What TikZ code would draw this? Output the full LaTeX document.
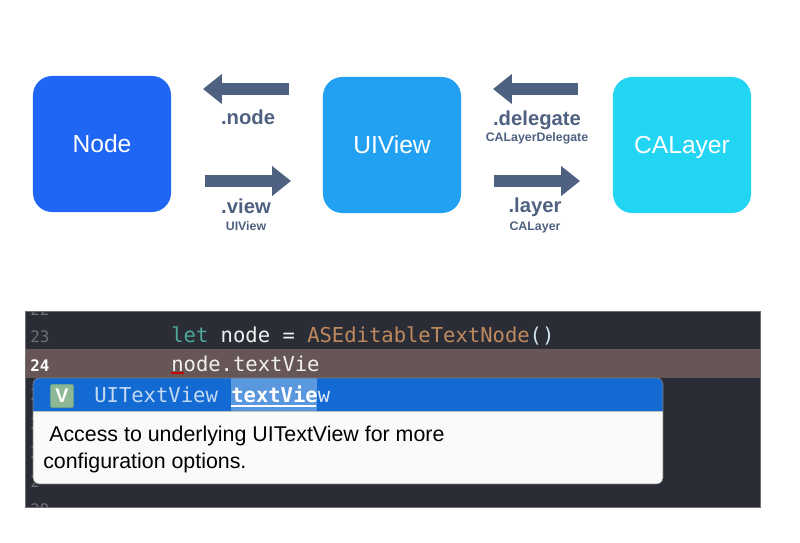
\documentclass[tikz,border=0pt]{standalone}
\usepackage{fontspec}
\setmainfont{Liberation Sans}
\setmonofont{DejaVu Sans Mono}
\usetikzlibrary{arrows.meta}
\definecolor{panelbg}{HTML}{2A2D36}
\definecolor{linebg}{HTML}{665657}
\definecolor{popblue}{HTML}{126AD2}
\definecolor{arrowcol}{HTML}{4F6180}
\definecolor{numcol}{HTML}{6E7076}
\begin{document}
\begin{tikzpicture}[x=0.025cm,y=-0.025cm,
	block/.style = {rounded corners=0.48cm,
		minimum width = 3.45cm,
		minimum height = 3.4cm,
		text height = 12.5pt,
		text depth = 0pt,
		text = white,
		font = \fontsize{17.5}{20}\selectfont},
	bigarrow/.style = {arrowcol,
		line width = 8.6pt,
		-{Triangle[length=13.5pt,width=20.6pt]}},
	prop/.style = {arrowcol,
		inner sep = 0pt,
		anchor = base,
		font = \fontsize{14.4}{16}\selectfont\bfseries},
	subprop/.style = {arrowcol,
		inner sep = 0pt,
		anchor = base,
		font = \fontsize{8.8}{10}\selectfont\bfseries},
	code/.style = {inner sep = 0pt,
		anchor = base west,
		font = \fontsize{14.6}{17}\selectfont\ttfamily},
	gutter/.style = {numcol,
		inner sep = 0pt,
		anchor = base west,
		font = \fontsize{11.3}{13}\selectfont\ttfamily},
	doc/.style = {black,
		inner sep = 0pt,
		anchor = base west,
		font = \fontsize{15.2}{18}\selectfont}]

	\useasboundingbox (0,0) rectangle (800,542);

	% top row
	\node[block,fill={rgb,255:red,31;green,102;blue,245}] (node) at (102,144) {Node};
	\node[block,fill={rgb,255:red,34;green,161;blue,243}] (uiview) at (392,145) {UIView};
	\node[block,fill={rgb,255:red,34;green,213;blue,243}] (calayer) at (682,145) {CALayer};

	\coordinate (nodeA) at (289,89);
	\coordinate (nodeB) at (203,89);
	\coordinate (viewA) at (205,181);
	\coordinate (viewB) at (291,181);
	\coordinate (delegateA) at (578,89);
	\coordinate (delegateB) at (493,89);
	\coordinate (layerA) at (494,181);
	\coordinate (layerB) at (580,181);
	\draw[bigarrow] (nodeA) -- (nodeB);
	\draw[bigarrow] (viewA) -- (viewB);
	\draw[bigarrow] (delegateA) -- (delegateB);
	\draw[bigarrow] (layerA) -- (layerB);

	\node[prop] (nodeprop) at (248,124) {.node};
	\node[prop] (viewprop) at (246,213) {.view};
	\node[subprop] (viewsub) at (246,230) {UIView};
	\node[prop] (delegateprop) at (537,125) {.delegate};
	\node[subprop] (delegatesub) at (537,141) {CALayerDelegate};
	\node[prop] (layerprop) at (535,212) {.layer};
	\node[subprop] (layersub) at (535,230) {CALayer};

	% editor panel
	\begin{scope}
		\clip (25,311) rectangle (760,507);
		\fill[panelbg] (25,311) rectangle (760,507);
		\fill[linebg] (25,349) rectangle (760,378);
		\node[gutter] (n22) at (30,315) {22};
		\foreach \y in {400,429,458,487} {
			\node[gutter] at (30,\y) {2};
		}
		\node[gutter] (n29) at (30,515) {29};
	\end{scope}
	\draw[numcol,line width=0.5pt] (25,311) rectangle (760,507);

	\node[gutter] (n23) at (30,342) {23};
	\node[gutter,white,font=\fontsize{11.3}{13}\selectfont\ttfamily\bfseries] (n24) at (30,371) {24};
	\node[code] (line23) at (171,342) {\textcolor[HTML]{4FA89A}{let} \textcolor[HTML]{F0F0F0}{node =} \textcolor[HTML]{C08A5E}{ASEditableTextNode}\textcolor[HTML]{CFE5EE}{()}};
	\node[code,text={rgb,255:red,240;green,240;blue,240}] (line24) at (171,371) {node.textVie};
	\draw[red!80!black,line width=1pt] (line24.base west)++(0,2) -- ++(13,0);

	% completion popup
	\begin{scope}
		\clip[rounded corners=0.16cm] (33,378) rectangle (663,484);
		\fill[white!98!black] (33,378) rectangle (663,484);
		\fill[popblue] (33,378) rectangle (663,411);
		\draw[gray!50,line width=0.7pt] (33,411.5) -- (663,411.5);
		\fill[white!30!popblue] (231,378) rectangle (317,411);
	\end{scope}
	\draw[gray,line width=0.4pt,rounded corners=0.16cm] (33,378) rectangle (663,484);

	\node[fill={rgb,255:red,140;green,184;blue,150},draw={rgb,255:red,110;green,165;blue,125},rounded corners=0.05cm,
		minimum size=0.58cm,inner sep=0pt,text=white,font=\fontsize{14}{16}\selectfont\bfseries] (icon) at (62,396) {V};
	\node[code,text={rgb,255:red,197;green,217;blue,243}] (rettype) at (94,402) {UITextView};
	\node[code,white,font=\fontsize{14.6}{17}\selectfont\ttfamily\bfseries] (match) at (231,402) {textVie\textcolor[HTML]{DCE8F7}{\mdseries w}};
	\draw[white,line width=0.8pt] (231,406) -- (316,406);

	\node[doc] (docA) at (49,441) {Access to underlying UITextView for more};
	\node[doc] (docB) at (43,468) {configuration options.};

\end{tikzpicture}
\end{document}
